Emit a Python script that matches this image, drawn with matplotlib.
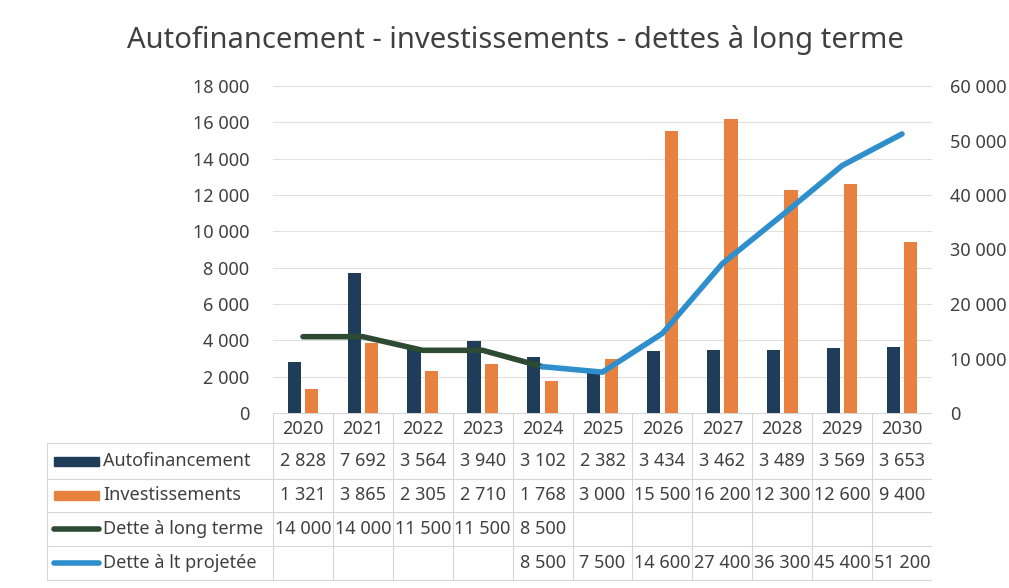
import matplotlib.pyplot as plt
from matplotlib.patches import Rectangle
from matplotlib.lines import Line2D

annees = ["2020", "2021", "2022", "2023", "2024", "2025", "2026", "2027", "2028", "2029", "2030"]
autofinancement = [2828, 7692, 3564, 3940, 3102, 2382, 3434, 3462, 3489, 3569, 3653]
investissements = [1321, 3865, 2305, 2710, 1768, 3000, 15500, 16200, 12300, 12600, 9400]
dette_lt = [14000, 14000, 11500, 11500, 8500, None, None, None, None, None, None]
dette_proj = [None, None, None, None, 8500, 7500, 14600, 27400, 36300, 45400, 51200]

series_labels = ["Autofinancement", "Investissements", "Dette à long terme", "Dette à lt projetée"]
c_auto = "#1f3d58"
c_inv = "#e8803f"
c_dette = "#2d4a33"
c_proj = "#2f8fcc"

plt.rcParams['font.family'] = ['Noto Sans', 'DejaVu Sans']

W, H = 1009, 588
fig = plt.figure(figsize=(W / 100, H / 100), dpi=100)

def box(l, t, r, b):
    return [l / W, 1 - b / H, (r - l) / W, (b - t) / H]

ax = fig.add_axes(box(273, 86, 932, 413))
ax2 = ax.twinx()
x = list(range(len(annees)))
bw = 0.22
ax.bar([i - 0.145 for i in x], autofinancement, bw, color=c_auto, zorder=3)
ax.bar([i + 0.145 for i in x], investissements, bw, color=c_inv, zorder=3)

def seg(vals):
    xs = [i for i, v in enumerate(vals) if v is not None]
    return xs, [vals[i] for i in xs]

ax2.plot(*seg(dette_lt), color=c_dette, lw=4, solid_capstyle="round", zorder=4)
ax2.plot(*seg(dette_proj), color=c_proj, lw=4, solid_capstyle="round", zorder=4)

ax.set_xlim(-0.5, 10.5)
ax.set_ylim(0, 18000)
ax2.set_ylim(0, 60000)
ax.set_yticks(range(0, 18001, 2000))
ax2.set_yticks(range(0, 60001, 10000))
fmt = lambda v: f"{v:,}".replace(",", " ")
ax.set_yticklabels([fmt(v) for v in range(0, 18001, 2000)], fontsize=13, color="#404040")
ax2.set_yticklabels([fmt(v) for v in range(0, 60001, 10000)], fontsize=13, color="#404040")
ax.tick_params(axis="y", length=0, pad=17)
ax2.tick_params(axis="y", length=0, pad=13)
ax.set_xticks([])
ax.grid(axis="y", color="#e0e0e0", lw=0.8, zorder=0)
for a in (ax, ax2):
    for s in a.spines.values():
        s.set_visible(False)

fig.text(515 / W, 1 - 40 / H, "Autofinancement - investissements - dettes à long terme",
         ha="center", va="center", fontsize=21, color="#404040")

# data table
tb = fig.add_axes(box(47, 413, 932, 581))
x0 = -0.5 - (273 - 47) / ((932 - 273) / 11)
tb.set_xlim(x0, 10.5)
tb.set_ylim(581, 413)
tb.axis("off")
gc = "#d6d6d6"
rows_y = [413, 443, 479, 512, 546, 580]
for y in rows_y[1:]:
    tb.plot([x0, 10.5], [y, y], color=gc, lw=0.8)
tb.plot([-0.5, 10.5], [413, 413], color=gc, lw=0.8)
tb.plot([x0, x0], [443, 580], color=gc, lw=0.8)
for i in range(12):
    tb.plot([i - 0.5, i - 0.5], [413, 580], color=gc, lw=0.8)
for i, a in enumerate(annees):
    tb.text(i, 429, a, ha="center", va="center", fontsize=13, color="#404040")

data_rows = [autofinancement, investissements, dette_lt, dette_proj]
px = (10.5 - x0) / (932 - 47)
for r, (lab, vals) in enumerate(zip(series_labels, data_rows)):
    yc = (rows_y[r + 1] + rows_y[r + 2]) / 2
    kx0 = x0 + 7 * px
    kx1 = x0 + 52 * px
    if r == 0:
        tb.add_patch(Rectangle((kx0, yc - 4.5), kx1 - kx0, 9, color=c_auto))
    elif r == 1:
        tb.add_patch(Rectangle((kx0, yc - 4.5), kx1 - kx0, 9, color=c_inv))
    else:
        col = c_dette if r == 2 else c_proj
        tb.add_line(Line2D([kx0, kx1], [yc, yc], color=col, lw=4, solid_capstyle="round"))
    tb.text(x0 + 56 * px, yc, lab, ha="left", va="center", fontsize=13, color="#404040")
    for i, v in enumerate(vals):
        if v is not None:
            tb.text(i, yc, fmt(v), ha="center", va="center", fontsize=13, color="#404040")

fig.savefig("out.png", dpi=100, facecolor="white")
